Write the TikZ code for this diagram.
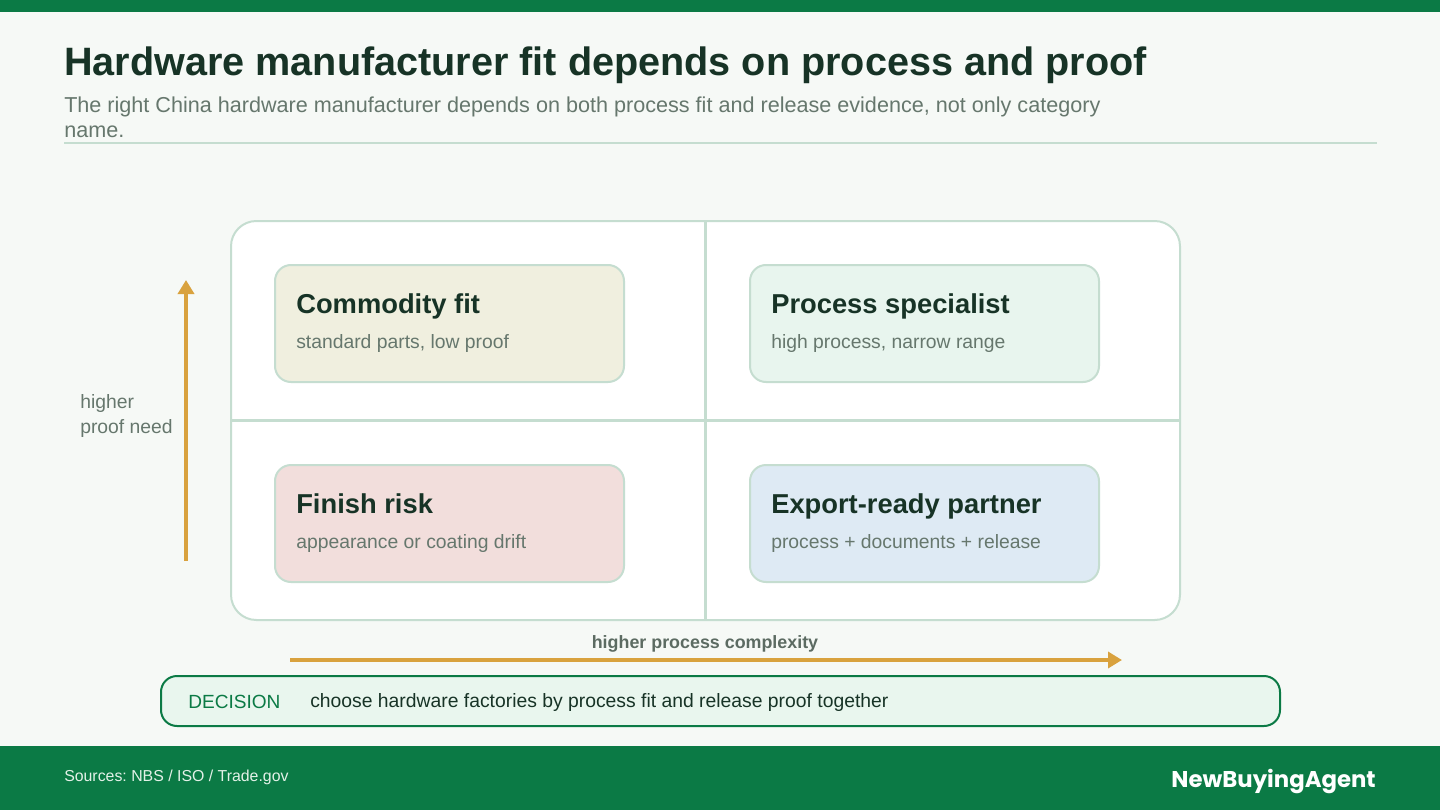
\documentclass[tikz,border=0pt]{standalone}
\usepackage{fontspec}
\setmainfont{Liberation Sans}
\newfontfamily\brandfont{Poppins}
\usepackage{xcolor}
\usetikzlibrary{arrows.meta,positioning}
\frenchspacing

\definecolor{brandgreen}{HTML}{0B7A45}
\definecolor{pagebg}{HTML}{F6F9F6}
\definecolor{inkdark}{HTML}{173326}
\definecolor{inkgray}{HTML}{66776D}
\definecolor{rulegreen}{HTML}{C5DDD0}
\definecolor{axisgold}{HTML}{D9A23E}
\definecolor{cardbeige}{HTML}{F0EFDF}
\definecolor{cardmint}{HTML}{E8F5EE}
\definecolor{cardpink}{HTML}{F2DEDC}
\definecolor{cardblue}{HTML}{DEEAF4}
\definecolor{decisionfill}{HTML}{E9F6EE}
\definecolor{foottext}{HTML}{E3F1E8}

\begin{document}
\begin{tikzpicture}[
  x=0.75pt, y=-0.75pt,
  txt/.style={inner sep=0pt, anchor=base west},
  quad/.style={draw=rulegreen, line width=1.5pt, rounded corners=12pt, minimum width=261.75pt, minimum height=87.75pt, inner sep=0pt},
  cardtitle/.style={txt, font=\fontsize{20.5}{24}\selectfont\bfseries, text=inkdark},
  cardnote/.style={txt, font=\fontsize{14.5}{17}\selectfont, text=inkgray},
  subline/.style={txt, font=\fontsize{16.2}{19.5}\selectfont, text=inkgray},
  axisnote/.style={txt, font=\fontsize{14.5}{17}\selectfont, text=inkgray},
  axis/.style={draw=axisgold, line width=3pt, -{Triangle[length=10.5pt, width=12pt]}}
]
\useasboundingbox (0,0) rectangle (1440,810);
\fill[pagebg] (0,0) rectangle (1440,810);
\fill[brandgreen] (0,0) rectangle (1440,12);
\fill[brandgreen] (0,746) rectangle (1440,810);

\node[txt, font=\fontsize{29.7}{34}\selectfont\bfseries, text=inkdark] (title) at (64,75) {Hardware manufacturer fit depends on process and proof};
\node[subline] (subtitle) at (64,112) {The right China hardware manufacturer depends on both process fit and release evidence, not only category};
\node[subline] (subtitlecont) at (64,137) {name.};
\coordinate (ruleL) at (64,143);
\coordinate (ruleR) at (1377,143);
\draw[rulegreen, line width=1.5pt] (ruleL) -- (ruleR);

\node[draw=rulegreen, fill=white, line width=1.5pt, rounded corners=19pt, minimum width=711.75pt, minimum height=299.25pt, inner sep=0pt] (grid) at (705.5,420.5) {};
\draw[rulegreen, line width=2pt] (grid.north) -- (grid.south);
\draw[rulegreen, line width=2pt] (grid.west) -- (grid.east);

\node[quad, fill=cardbeige] (commodity) at (449.5,323.5) {};
\node[quad, fill=cardmint] (specialist) at (924.5,323.5) {};
\node[quad, fill=cardpink] (finish) at (449.5,523.5) {};
\node[quad, fill=cardblue] (export) at (924.5,523.5) {};

\node[cardtitle] (commodityt) at (296,313) {Commodity fit};
\node[cardnote] (commodityn) at (296,348) {standard parts, low proof};
\node[cardtitle] (specialistt) at (771,313) {Process specialist};
\node[cardnote] (specialistn) at (771,348) {high process, narrow range};
\node[cardtitle] (finisht) at (296,513) {Finish risk};
\node[cardnote] (finishn) at (296,548) {appearance or coating drift};
\node[cardtitle] (exportt) at (771,513) {Export-ready partner};
\node[cardnote] (exportn) at (771,548) {process + documents + release};

\coordinate (ybot) at (186,561);
\coordinate (ytop) at (186,280);
\draw[axis] (ybot) -- (ytop);
\node[axisnote] (ylabel) at (80,408) {higher};
\node[axisnote] (ylabelcont) at (80,433) {proof need};

\coordinate (xleft) at (290,660);
\coordinate (xright) at (1122,660);
\draw[axis] (xleft) -- (xright);
\node[inner sep=0pt, anchor=base, font=\fontsize{13.4}{16}\selectfont\bfseries, text=inkgray!90!black] (xlabel) at (705,648) {higher process complexity};

\node[draw=brandgreen, fill=decisionfill, line width=1.5pt, rounded corners=12pt, minimum width=839.25pt, minimum height=37.5pt, inner sep=0pt] (decision) at (720.5,701) {};
\node[txt, font=\fontsize{14.3}{17}\selectfont, text=brandgreen] (decisiontag) at (188,708) {DECISION};
\node[txt, font=\fontsize{14.5}{17}\selectfont, text=inkdark] (decisiontext) at (310,707) {choose hardware factories by process fit and release proof together};

\node[txt, font=\fontsize{11.9}{14}\selectfont, text=foottext] (sources) at (64,781) {Sources: NBS / ISO / Trade.gov};
\node[inner sep=0pt, anchor=base east, font=\brandfont\fontsize{17.1}{20}\selectfont\bfseries, text=white] (brand) at (1376,787) {NewBuyingAgent};
\end{tikzpicture}
\end{document}
